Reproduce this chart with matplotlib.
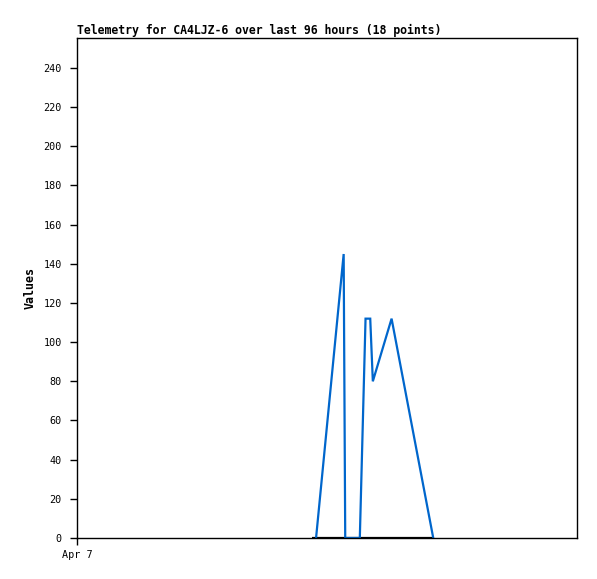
import matplotlib
matplotlib.use("Agg")
import matplotlib.pyplot as plt

# hours since start of window (Apr 7 00:00), 96 h span
hours_blue = [45.9, 51.2, 51.5, 54.3, 55.4, 56.3, 56.8, 60.4, 68.4]
values_blue = [0, 145, 0, 0, 112, 112, 80, 112, 0]
hours_black = [45.1, 51.5, 54.3, 60.4, 68.4]
values_black = [0, 0, 0, 0, 0]
yticks = list(range(0, 241, 20))
xtick_pos = [0]
xtick_labels = ["Apr 7"]

fig = plt.figure(figsize=(5.97, 5.79), dpi=100)
W, H = 597, 579
ax = fig.add_axes([77 / W, (H - 538) / H, 500 / W, 500 / H])

ax.plot(hours_black, values_black, color="black", lw=1.6, solid_capstyle="butt")
ax.plot(hours_blue, values_blue, color="#0066CC", lw=1.6, solid_joinstyle="miter")

ax.set_xlim(0, 96)
ax.set_ylim(0, 255.3)
ax.set_yticks(yticks)
ax.set_xticks(xtick_pos)
ax.set_xticklabels(xtick_labels)

mono = "DejaVu Sans Mono"
for lbl in ax.get_yticklabels() + ax.get_xticklabels():
    lbl.set_fontfamily(mono)
    lbl.set_fontsize(7.3)
ax.tick_params(axis="y", direction="out", length=5, width=1, color="black", pad=6)
ax.tick_params(axis="x", direction="out", length=5, width=1, color="black", pad=4)

for s in ax.spines.values():
    s.set_linewidth(1)
    s.set_color("black")

ax.set_title("Telemetry for CA4LJZ-6 over last 96 hours (18 points)", loc="left",
             fontfamily=mono, fontweight="bold", fontsize=8.3, pad=3)
ax.set_ylabel("Values", fontfamily=mono, fontweight="bold", fontsize=8.4, labelpad=5)

fig.savefig("out.png", dpi=100)
